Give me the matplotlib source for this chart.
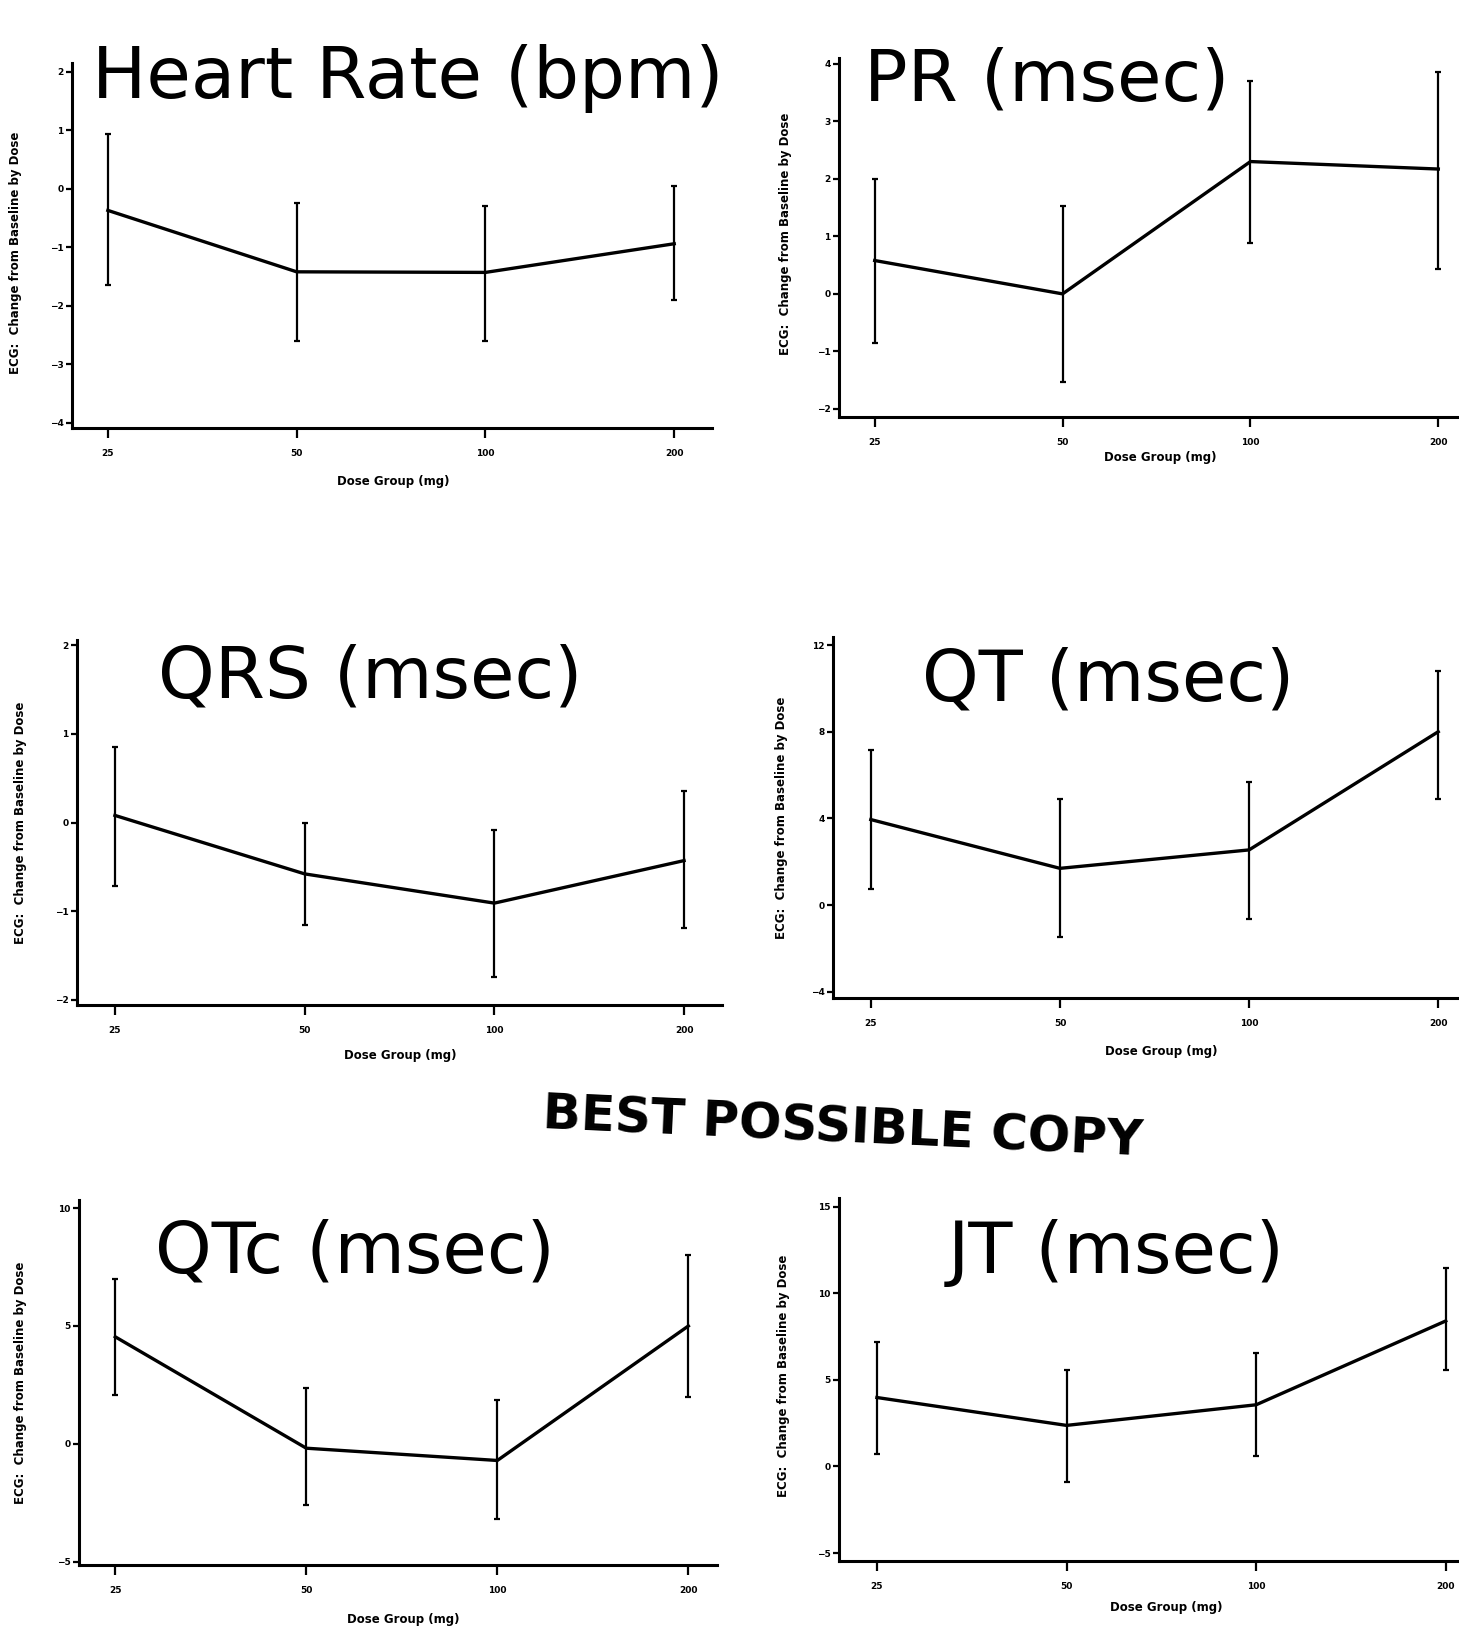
import matplotlib
matplotlib.use('Agg')
import matplotlib.pyplot as plt

# figure size in pixels (dpi 100)
W, H = 1459, 1627

# ---- data ----
doses = ['25', '50', '100', '200']

hr_mean = [-0.37, -1.42, -1.43, -0.94]
hr_lo = [-1.65, -2.60, -2.60, -1.91]
hr_hi = [0.94, -0.24, -0.29, 0.05]

pr_mean = [0.58, 0.00, 2.30, 2.17]
pr_lo = [-0.85, -1.53, 0.88, 0.43]
pr_hi = [1.99, 1.53, 3.70, 3.85]

qrs_mean = [0.08, -0.58, -0.91, -0.43]
qrs_lo = [-0.72, -1.16, -1.74, -1.19]
qrs_hi = [0.85, -0.01, -0.09, 0.35]

qt_mean = [3.95, 1.70, 2.55, 8.00]
qt_lo = [0.76, -1.48, -0.64, 4.90]
qt_hi = [7.15, 4.88, 5.68, 10.80]

qtc_mean = [4.54, -0.18, -0.70, 5.00]
qtc_lo = [2.08, -2.60, -3.20, 1.99]
qtc_hi = [7.01, 2.36, 1.85, 7.99]

jt_mean = [3.98, 2.37, 3.56, 8.40]
jt_lo = [0.71, -0.87, 0.63, 5.58]
jt_hi = [7.17, 5.58, 6.54, 11.48]

ylabel = 'ECG:  Change from Baseline by Dose'
xlabel = 'Dose Group (mg)'

# panel layout: title, data, yticks, ylim, xlim, axes box (left, top, right, bottom px),
# title anchor (left px, baseline px), ylabel (x px, frac), xlabel (x px, y px)
panels = [
    dict(title='Heart Rate (bpm)', m=hr_mean, lo=hr_lo, hi=hr_hi,
         yt=[-4, -3, -2, -1, 0, 1, 2], ylim=(-4.09, 2.15), xlim=(-0.19, 3.2),
         box=(72, 63, 712, 428), tpos=(92, 98), yl=(16, 0.48), xl=(393, 482)),
    dict(title='PR (msec)', m=pr_mean, lo=pr_lo, hi=pr_hi,
         yt=[-2, -1, 0, 1, 2, 3, 4], ylim=(-2.14, 4.1), xlim=(-0.19, 3.11),
         box=(839, 58, 1459, 417), tpos=(864, 100), yl=(786, 0.51), xl=(1160, 458)),
    dict(title='QRS (msec)', m=qrs_mean, lo=qrs_lo, hi=qrs_hi,
         yt=[-2, -1, 0, 1, 2], ylim=(-2.06, 2.06), xlim=(-0.2, 3.2),
         box=(77, 640, 722, 1005), tpos=(158, 697), yl=(21, 0.5), xl=(400, 1055)),
    dict(title='QT (msec)', m=qt_mean, lo=qt_lo, hi=qt_hi,
         yt=[-4, 0, 4, 8, 12], ylim=(-4.28, 12.37), xlim=(-0.2, 3.11),
         box=(833, 637, 1459, 998), tpos=(922, 700), yl=(782, 0.5), xl=(1161, 1052)),
    dict(title='QTc (msec)', m=qtc_mean, lo=qtc_lo, hi=qtc_hi,
         yt=[-5, 0, 5, 10], ylim=(-5.13, 10.34), xlim=(-0.19, 3.15),
         box=(79, 1200, 717, 1565), tpos=(155, 1273), yl=(21, 0.5), xl=(403, 1620)),
    dict(title='JT (msec)', m=jt_mean, lo=jt_lo, hi=jt_hi,
         yt=[-5, 0, 5, 10, 15], ylim=(-5.46, 15.5), xlim=(-0.2, 3.07),
         box=(839, 1198, 1459, 1561), tpos=(948, 1273), yl=(784, 0.51), xl=(1166, 1607)),
]

fig = plt.figure(figsize=(W / 100, H / 100), dpi=100)
fig.patch.set_facecolor('white')

xpos = list(range(len(doses)))

for p in panels:
    l, t, r, b = p['box']
    ax = fig.add_axes([l / W, 1 - b / H, (r - l) / W, (b - t) / H])
    ax.patch.set_alpha(0)
    err = [[m - lo for m, lo in zip(p['m'], p['lo'])],
           [hi - m for m, hi in zip(p['m'], p['hi'])]]
    ax.errorbar(xpos, p['m'], yerr=err, color='black', linewidth=2.4,
                elinewidth=1.6, capsize=2, capthick=1.6, clip_on=False)

    ax.set_xlim(*p['xlim'])
    ax.set_ylim(*p['ylim'])
    ax.set_xticks(xpos)
    ax.set_xticklabels(doses)
    ax.set_yticks(p['yt'])
    for s in ['top', 'right']:
        ax.spines[s].set_visible(False)
    for s in ['left', 'bottom']:
        ax.spines[s].set_linewidth(2.2)
    ax.tick_params(axis='x', length=7, width=1.6, pad=8, labelsize=6.5)
    ax.tick_params(axis='y', length=4, width=1.6, pad=2, labelsize=6.5)
    plt.setp(ax.get_xticklabels(), fontweight='bold')
    plt.setp(ax.get_yticklabels(), fontweight='bold')

    ax.set_ylabel(ylabel, fontsize=8.5, fontweight='bold')
    ax.yaxis.set_label_coords((p['yl'][0] - l) / (r - l), p['yl'][1])
    ax.yaxis.label.set_va('center')
    ax.set_xlabel(xlabel, fontsize=8.5, fontweight='bold')
    ax.xaxis.set_label_coords((p['xl'][0] - l) / (r - l), (b - p['xl'][1]) / (b - t))
    ax.xaxis.label.set_va('center')

    # big hand-lettered style panel title
    fig.text(p['tpos'][0] / W, 1 - p['tpos'][1] / H, p['title'], fontsize=52,
             ha='left', va='baseline', family='DejaVu Sans')

# stamp across the lower half
fig.text(843 / W, 1 - 1128 / H, 'BEST POSSIBLE COPY', fontsize=36, fontweight='bold',
         ha='center', va='center', rotation=-2.6, family='DejaVu Sans')

fig.savefig('out.png', dpi=100, facecolor='white')
